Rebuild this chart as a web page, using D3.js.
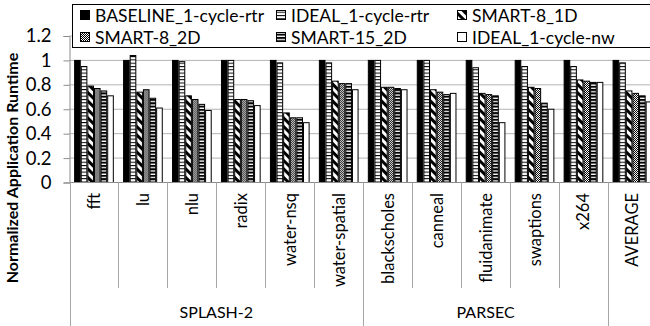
<!DOCTYPE html>
<html>
<head>
<meta charset="utf-8">
<script src="https://cdn.jsdelivr.net/npm/d3@7"></script>
<style>
  body { margin: 0; background: #fff; }
  svg text { font-family: Lato, 'Open Sans', sans-serif; fill: #000; }
</style>
</head>
<body>
<div id="container"></div>
<script>
const categories = ['fft', 'lu', 'nlu', 'radix', 'water-nsq', 'water-spatial',
  'blackscholes', 'canneal', 'fluidanimate', 'swaptions', 'x264', 'AVERAGE'];
const groupNames = ['SPLASH-2', 'PARSEC'];
const groupFirst = ['fft', 'blackscholes'];
const groupLast = ['water-spatial', 'x264'];
const seriesNames = ['BASELINE_1-cycle-rtr', 'IDEAL_1-cycle-rtr', 'SMART-8_1D',
  'SMART-8_2D', 'SMART-15_2D', 'IDEAL_1-cycle-nw'];
const baseline = [1, 1, 1, 1, 1, 1, 1, 1, 1, 1, 1, 1];
const idealRtr = [0.95, 1.04, 0.99, 1.0, 0.98, 0.98, 1.0, 1.0, 0.94, 0.95, 0.95, 0.98];
const smart8_1D = [0.79, 0.74, 0.71, 0.68, 0.57, 0.83, 0.78, 0.76, 0.73, 0.78, 0.84, 0.75];
const smart8_2D = [0.77, 0.76, 0.68, 0.68, 0.53, 0.81, 0.78, 0.74, 0.72, 0.77, 0.83, 0.73];
const smart15_2D = [0.75, 0.69, 0.64, 0.67, 0.53, 0.81, 0.77, 0.72, 0.71, 0.65, 0.82, 0.71];
const idealNw = [0.71, 0.61, 0.59, 0.63, 0.49, 0.76, 0.76, 0.73, 0.49, 0.60, 0.82, 0.66];
const yTicks = [0, 0.2, 0.4, 0.6, 0.8, 1, 1.2];

const series = [baseline, idealRtr, smart8_1D, smart8_2D, smart15_2D, idealNw];

const width = 650;
const height = 326;
const plotLeft = 69.5;
const plotRight = 656.9;
const plotTop = 36;
const plotBottom = 182.5;

const svg = d3.select('#container').append('svg')
  .attr('width', width)
  .attr('height', height);

// patterns
const defs = svg.append('defs');
const pHLine = defs.append('pattern').attr('id', 'p-hline')
  .attr('patternUnits', 'userSpaceOnUse').attr('width', 4).attr('height', 3.3);
pHLine.append('rect').attr('width', 4).attr('height', 3.3).attr('fill', '#fff');
pHLine.append('rect').attr('y', 0).attr('width', 4).attr('height', 1).attr('fill', '#000');

const pDiag = defs.append('pattern').attr('id', 'p-diag')
  .attr('patternUnits', 'userSpaceOnUse').attr('width', 6).attr('height', 6)
  .attr('patternTransform', 'rotate(-45)');
pDiag.append('rect').attr('width', 6).attr('height', 6).attr('fill', '#fff');
pDiag.append('rect').attr('width', 3).attr('height', 6).attr('fill', '#000');

const pCheck = defs.append('pattern').attr('id', 'p-check')
  .attr('patternUnits', 'userSpaceOnUse').attr('width', 2).attr('height', 2);
pCheck.append('rect').attr('width', 2).attr('height', 2).attr('fill', '#fff');
pCheck.append('rect').attr('width', 1).attr('height', 1).attr('fill', '#000');
pCheck.append('rect').attr('x', 1).attr('y', 1).attr('width', 1).attr('height', 1).attr('fill', '#000');

const pHBold = defs.append('pattern').attr('id', 'p-hbold')
  .attr('patternUnits', 'userSpaceOnUse').attr('width', 4).attr('height', 3.3);
pHBold.append('rect').attr('width', 4).attr('height', 3.3).attr('fill', '#fff');
pHBold.append('rect').attr('width', 4).attr('height', 2).attr('fill', '#000');

const fills = ['#000', 'url(#p-hline)', 'url(#p-diag)', 'url(#p-check)', 'url(#p-hbold)', '#fff'];

// scales
const x0 = d3.scaleBand().domain(categories).range([plotLeft, plotRight]);
const x1 = d3.scaleBand().domain(d3.range(seriesNames.length))
  .range([0, x0.bandwidth()]).paddingInner(0).paddingOuter(0.7);
const y = d3.scaleLinear().domain([0, 1.2]).range([plotBottom, plotTop]);

// gridlines
svg.append('g')
  .selectAll('line')
  .data(yTicks.filter((d) => d > 0))
  .join('line')
  .attr('x1', plotLeft).attr('x2', plotRight)
  .attr('y1', (d) => y(d)).attr('y2', (d) => y(d))
  .attr('stroke', '#b3b3b3').attr('stroke-width', 1);

// y axis
const yAxis = svg.append('g')
  .attr('transform', `translate(${plotLeft},0)`)
  .call(d3.axisLeft(y).tickValues(yTicks).tickFormat(d3.format('~g')).tickSizeOuter(0).tickSize(6).tickPadding(12));
yAxis.select('.domain').attr('stroke', '#8c8c8c');
yAxis.selectAll('.tick line').attr('stroke', '#8c8c8c');
yAxis.selectAll('.tick text').attr('font-size', 18.5).attr('font-family', 'Lato, sans-serif');

svg.append('text')
  .attr('transform', `translate(18,${168}) rotate(-90)`)
  .attr('text-anchor', 'middle')
  .attr('font-weight', 'bold')
  .attr('font-size', 16)
  .text('Normalized Application Runtime');

// bars
const catG = svg.append('g').selectAll('g')
  .data(categories)
  .join('g')
  .attr('transform', (d) => `translate(${x0(d)},0)`);

catG.selectAll('rect')
  .data((c, ci) => series.map((s, si) => ({ si, v: s[ci] })))
  .join('rect')
  .attr('x', (d) => x1(d.si) + 0.5)
  .attr('y', (d) => y(d.v))
  .attr('width', x1.bandwidth() - 1)
  .attr('height', (d) => plotBottom - y(d.v))
  .attr('fill', (d) => fills[d.si])
  .attr('stroke', '#000')
  .attr('stroke-width', 1);

// x axis line
svg.append('line')
  .attr('x1', plotLeft).attr('x2', plotRight)
  .attr('y1', plotBottom).attr('y2', plotBottom)
  .attr('stroke', '#8c8c8c');

// category separators
const longLines = new Set([groupFirst[0], groupFirst[1], 'AVERAGE']);
svg.append('g').selectAll('line')
  .data(categories)
  .join('line')
  .attr('x1', (d) => Math.round(x0(d)) + 0.5)
  .attr('x2', (d) => Math.round(x0(d)) + 0.5)
  .attr('y1', plotBottom)
  .attr('y2', (d) => (longLines.has(d) ? height : 288))
  .attr('stroke', '#a6a6a6');

// category labels
svg.append('g').selectAll('text')
  .data(categories)
  .join('text')
  .attr('transform', (d) => `translate(${x0(d) + x0.bandwidth() / 2 + 6},${193}) rotate(-90)`)
  .attr('text-anchor', 'end')
  .attr('font-size', 16.5)
  .text((d) => d);

// group labels
svg.append('g').selectAll('text')
  .data(groupNames)
  .join('text')
  .attr('x', (d, i) => (x0(groupFirst[i]) + x0(groupLast[i]) + x0.bandwidth()) / 2)
  .attr('y', 318)
  .attr('text-anchor', 'middle')
  .attr('font-size', 16)
  .text((d) => d);

// legend
const legend = svg.append('g');
legend.append('rect')
  .attr('x', 72.5).attr('y', 4.5)
  .attr('width', 600).attr('height', 43)
  .attr('fill', '#fff').attr('stroke', '#000');
const legX = [80, 276, 457];
const legY = [15, 37];
const item = legend.selectAll('g')
  .data(seriesNames)
  .join('g')
  .attr('transform', (d, i) => `translate(${legX[i % 3]},${legY[Math.floor(i / 3)]})`);
item.append('rect')
  .attr('x', 0.5).attr('y', -4.5)
  .attr('width', 9).attr('height', 9)
  .attr('fill', (d, i) => fills[i])
  .attr('stroke', '#000');
item.append('text')
  .attr('x', 15).attr('y', 6.5)
  .attr('font-size', 17.5)
  .text((d) => d);
</script>
</body>
</html>
